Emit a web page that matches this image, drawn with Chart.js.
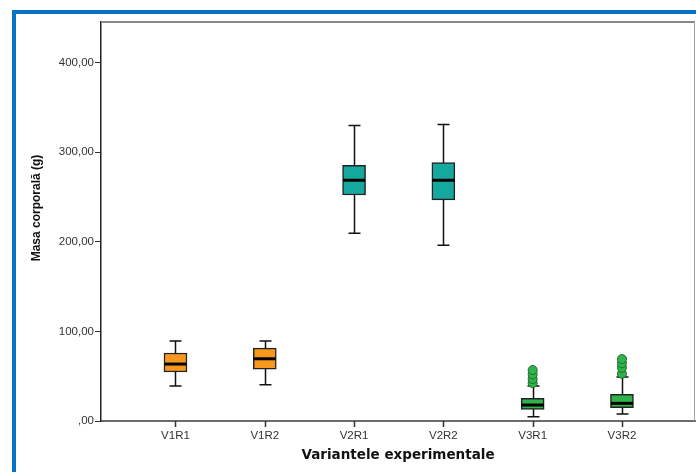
<!DOCTYPE html>
<html>
<head>
<meta charset="utf-8">
<script src="https://cdn.jsdelivr.net/npm/chart.js@4"></script>
<style>
  html, body { margin: 0; padding: 0; background: #fff; }
  #frame { position: absolute; left: 12px; top: 10px; right: 0; bottom: 0;
           border-left: 4px solid #0673c4; border-top: 4px solid #0673c4; }
  #wrap { position: absolute; left: 0; top: 0; width: 696px; height: 472px; }
</style>
</head>
<body>
<div id="frame"></div>
<div id="wrap"><canvas id="myChart" width="696" height="472"></canvas></div>
<script>
const categories = ['V1R1', 'V1R2', 'V2R1', 'V2R2', 'V3R1', 'V3R2'];
const whiskerLow = [39, 40.4, 209.5, 196.1, 4.8, 7.8];
const q1 = [54.6, 57.9, 252.1, 246.6, 13, 14.8];
const median = [63.5, 69.4, 268.5, 268.5, 17.8, 19.7];
const q3 = [75.8, 81.3, 285.2, 288.2, 25.3, 29.7];
const whiskerHigh = [89.1, 89.1, 329.5, 330.6, 39, 49];
const outliersV3R1 = [42.3, 46.8, 52, 56.8];
const outliersV3R2 = [52.7, 59.4, 64.3, 69.1];
const yTicks = [0, 100, 200, 300, 400];

const boxColors = ['#f7971e', '#f7971e', '#14a89f', '#14a89f', '#30b34b', '#30b34b'];

const ctx = document.getElementById('myChart').getContext('2d');

// whiskers under the boxes, medians and frame on top
const boxParts = {
    id: 'boxParts',
    beforeDatasetsDraw(chart) {
        const xs = chart.scales.x, ys = chart.scales.y, c = chart.ctx;
        c.save();
        c.strokeStyle = '#111';
        c.lineWidth = 1.5;
        categories.forEach((cat, i) => {
            const px = Math.round(xs.getPixelForValue(i + 1)) + 0.5;
            const lo = ys.getPixelForValue(whiskerLow[i]);
            const hi = ys.getPixelForValue(whiskerHigh[i]);
            c.beginPath();
            c.moveTo(px, lo); c.lineTo(px, hi);
            c.moveTo(px - 6, lo); c.lineTo(px + 6, lo);
            c.moveTo(px - 6, hi); c.lineTo(px + 6, hi);
            c.stroke();
        });
        c.restore();
    },
    afterDatasetsDraw(chart) {
        const xs = chart.scales.x, ys = chart.scales.y, c = chart.ctx;
        c.save();
        c.strokeStyle = '#000';
        c.lineWidth = 3;
        categories.forEach((cat, i) => {
            const px = xs.getPixelForValue(i + 1);
            const m = ys.getPixelForValue(median[i]);
            c.beginPath();
            c.moveTo(px - 11, m); c.lineTo(px + 11, m);
            c.stroke();
        });
        c.restore();
    },
    afterDraw(chart) {
        const a = chart.chartArea, c = chart.ctx, xs = chart.scales.x;
        c.save();
        c.strokeStyle = '#8a8a8a';
        c.lineWidth = 2;
        c.beginPath();
        c.moveTo(a.left, a.top); c.lineTo(a.right, a.top);
        c.stroke();
        c.strokeStyle = '#a0a0a0';
        c.lineWidth = 1;
        c.beginPath();
        c.moveTo(a.right - 0.5, a.top); c.lineTo(a.right - 0.5, a.bottom);
        c.stroke();
        // category tick marks under the x axis
        c.strokeStyle = '#333';
        c.lineWidth = 1.5;
        c.beginPath();
        categories.forEach((cat, i) => {
            const px = Math.round(xs.getPixelForValue(i + 1)) + 0.5;
            c.moveTo(px, a.bottom); c.lineTo(px, a.bottom + 6);
        });
        c.stroke();
        // y axis title
        c.translate(37, 208);
        c.rotate(-Math.PI / 2);
        c.fillStyle = '#111';
        c.font = 'bold 12px "Liberation Sans", Arial, sans-serif';
        c.textAlign = 'center';
        c.textBaseline = 'middle';
        c.fillText('Masa corporală (g)', 0, 0);
        c.restore();
    }
};

const config = {
    type: 'bar',
    data: {
        datasets: [{
            type: 'bar',
            data: categories.map((cat, i) => ({ x: i + 1, y: [q1[i], q3[i]] })),
            backgroundColor: boxColors,
            borderColor: '#222',
            borderWidth: 1.5,
            borderSkipped: false,
            barThickness: 23
        }, {
            type: 'scatter',
            data: outliersV3R1.map(v => ({ x: 5, y: v })),
            backgroundColor: '#30b34b',
            borderColor: '#1d6a2c',
            borderWidth: 1,
            pointRadius: 4.5
        }, {
            type: 'scatter',
            data: outliersV3R2.map(v => ({ x: 6, y: v })),
            backgroundColor: '#30b34b',
            borderColor: '#1d6a2c',
            borderWidth: 1,
            pointRadius: 4.5
        }]
    },
    options: {
        responsive: false,
        animation: false,
        layout: { autoPadding: false, padding: { left: 0, top: 22, right: 1, bottom: 0 } },
        plugins: { legend: { display: false }, tooltip: { enabled: false } },
        scales: {
            x: {
                type: 'linear',
                min: 0.166,
                max: 6.818,
                offset: false,
                afterBuildTicks: s => { s.ticks = categories.map((c, i) => ({ value: i + 1 })); },
                afterFit: s => { s.height = 51; s.paddingLeft = 0; s.paddingRight = 0; },
                grid: { display: false },
                border: { display: true, color: '#6b6b6b', width: 2 },
                ticks: {
                    padding: 0,
                    color: '#333',
                    font: { family: '"Liberation Sans", Arial, sans-serif', size: 11.5 },
                    callback: v => categories[v - 1]
                },
                title: {
                    display: true,
                    text: 'Variantele experimentale',
                    color: '#111',
                    font: { family: '"DejaVu Sans", Verdana, sans-serif', size: 13.5, weight: 'bold' },
                    padding: { top: 0, bottom: 8 }
                }
            },
            y: {
                min: 0,
                max: 445,
                afterBuildTicks: s => { s.ticks = yTicks.map(v => ({ value: v })); },
                afterFit: s => { s.width = 101; },
                grid: { drawOnChartArea: false, tickLength: 6, color: '#333' },
                border: { color: '#222', width: 1.5 },
                ticks: {
                    padding: 1,
                    color: '#333',
                    font: { family: '"Liberation Sans", Arial, sans-serif', size: 11.5 },
                    callback: v => (v === 0 ? '' : v) + ',00'
                }
            }
        }
    },
    plugins: [boxParts]
};

const myChart = new Chart(ctx, config);
</script>
</body>
</html>
